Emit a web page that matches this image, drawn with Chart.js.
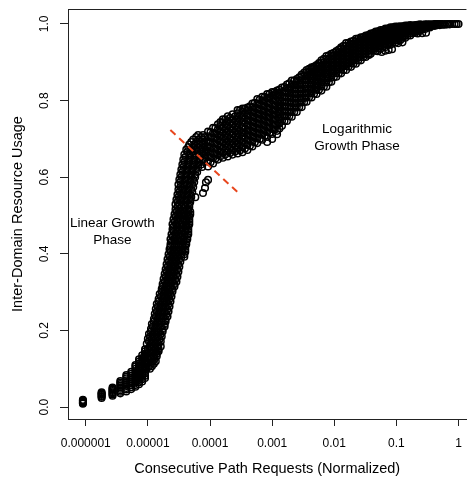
<!DOCTYPE html>
<html>
<head>
<meta charset="utf-8">
<script src="https://cdn.jsdelivr.net/npm/chart.js@4/dist/chart.umd.min.js"></script>
<style>
  html, body { margin: 0; padding: 0; background: #fff; }
  canvas { display: block; }
</style>
</head>
<body>
<canvas id="chart" width="472" height="482"></canvas>
<script>
// Axis ticks
const xTicks = [1e-6, 1e-5, 1e-4, 1e-3, 1e-2, 1e-1, 1];
const xTickLabels = ['0.000001', '0.00001', '0.0001', '0.001', '0.01', '0.1', '1'];
const yTicks = [0, 0.2, 0.4, 0.6, 0.8, 1.0];
const yTickLabels = ['0.0', '0.2', '0.4', '0.6', '0.8', '1.0'];

// Discrete columns at the low end (x, then the y values stacked at that x)
const lowX = [0.9e-6, 1.8e-6, 2.7e-6, 3.6e-6, 4.5e-6, 5.4e-6, 6.3e-6, 7.2e-6, 8.1e-6, 9.0e-6];
const lowY = [
  [0.009, 0.011, 0.013, 0.015, 0.017, 0.019],
  [0.024, 0.027, 0.029, 0.032, 0.034, 0.036, 0.039],
  [0.030, 0.033, 0.036, 0.039, 0.042, 0.045, 0.048, 0.051],
  [0.036, 0.040, 0.044, 0.048, 0.052, 0.056, 0.060, 0.064, 0.068],
  [0.041, 0.046, 0.050, 0.055, 0.060, 0.065, 0.070, 0.075, 0.080, 0.084],
  [0.047, 0.052, 0.057, 0.062, 0.067, 0.072, 0.077, 0.082, 0.087, 0.092],
  [0.053, 0.058, 0.064, 0.070, 0.076, 0.082, 0.088, 0.094, 0.100, 0.106, 0.110],
  [0.060, 0.065, 0.071, 0.077, 0.083, 0.089, 0.095, 0.101, 0.107, 0.113, 0.119, 0.125],
  [0.067, 0.073, 0.079, 0.085, 0.091, 0.097, 0.104, 0.110, 0.116, 0.122, 0.128, 0.135],
  [0.076, 0.082, 0.088, 0.094, 0.100, 0.106, 0.113, 0.119, 0.126, 0.132, 0.139, 0.146, 0.151]
];

// Linear growth phase, read row by row (y, then the x values on that row)
const steepY = [0.100, 0.1065, 0.113, 0.1195, 0.126, 0.1325, 0.139, 0.1455, 0.152, 0.1585,
  0.165, 0.1715, 0.178, 0.1845, 0.191, 0.1975, 0.204, 0.2105, 0.217, 0.2235,
  0.230, 0.2365, 0.243, 0.2495, 0.256, 0.2625, 0.269, 0.2755, 0.282, 0.2885,
  0.295, 0.3015, 0.308, 0.3145, 0.321, 0.3275, 0.334, 0.3405, 0.347, 0.3535,
  0.360, 0.3665, 0.373, 0.3795, 0.386, 0.3925, 0.399, 0.4055, 0.412, 0.4185,
  0.425, 0.4315, 0.438, 0.4445, 0.451, 0.4575, 0.464, 0.4705, 0.477, 0.4835,
  0.490, 0.4965, 0.503, 0.5095, 0.516, 0.5225, 0.529, 0.5355, 0.542, 0.5485,
  0.555, 0.5615, 0.568, 0.5745, 0.581, 0.5875, 0.594, 0.6005, 0.607, 0.6135,
  0.620, 0.6265, 0.633, 0.6395, 0.646, 0.6525, 0.659, 0.6655, 0.672, 0.6785,
  0.685, 0.6915, 0.698, 0.7045, 0.710];
const steepX = [
  [9.6e-6, 1.08e-5], [1.04e-5, 1.16e-5],
  [9.6e-6, 1.12e-5, 1.25e-5], [1.04e-5, 1.2e-5, 1.34e-5],
  [1.0e-5, 1.16e-5, 1.29e-5], [1.08e-5, 1.25e-5, 1.39e-5],
  [9.6e-6, 1.12e-5, 1.29e-5, 1.39e-5], [1.04e-5, 1.2e-5, 1.39e-5, 1.49e-5],
  [1.0e-5, 1.16e-5, 1.34e-5, 1.49e-5], [1.08e-5, 1.25e-5, 1.44e-5, 1.61e-5],
  [9.6e-6, 1.12e-5, 1.29e-5, 1.49e-5], [1.04e-5, 1.2e-5, 1.39e-5, 1.61e-5],
  [1.0e-5, 1.16e-5, 1.34e-5, 1.55e-5], [1.08e-5, 1.25e-5, 1.44e-5, 1.67e-5],
  [1.04e-5, 1.2e-5, 1.39e-5, 1.61e-5], [1.12e-5, 1.29e-5, 1.49e-5, 1.73e-5],
  [1.12e-5, 1.29e-5, 1.49e-5, 1.73e-5], [1.2e-5, 1.39e-5, 1.61e-5, 1.86e-5],
  [1.16e-5, 1.34e-5, 1.55e-5, 1.86e-5], [1.25e-5, 1.44e-5, 1.67e-5, 1.93e-5],
  [1.25e-5, 1.44e-5, 1.67e-5, 1.93e-5], [1.34e-5, 1.55e-5, 1.79e-5, 2.07e-5],
  [1.29e-5, 1.49e-5, 1.73e-5, 2.0e-5], [1.39e-5, 1.61e-5, 1.86e-5, 2.15e-5],
  [1.34e-5, 1.55e-5, 1.79e-5, 2.07e-5], [1.44e-5, 1.67e-5, 1.93e-5, 2.23e-5],
  [1.39e-5, 1.61e-5, 1.86e-5, 2.15e-5], [1.49e-5, 1.73e-5, 2.0e-5, 2.31e-5],
  [1.49e-5, 1.73e-5, 2.0e-5, 2.23e-5], [1.61e-5, 1.86e-5, 2.15e-5, 2.4e-5],
  [1.55e-5, 1.79e-5, 2.07e-5, 2.31e-5], [1.67e-5, 1.93e-5, 2.23e-5, 2.49e-5],
  [1.67e-5, 1.86e-5, 2.15e-5, 2.49e-5], [1.73e-5, 2.0e-5, 2.31e-5, 2.68e-5],
  [1.73e-5, 2.0e-5, 2.31e-5, 2.68e-5], [1.86e-5, 2.15e-5, 2.49e-5, 2.88e-5],
  [1.79e-5, 2.07e-5, 2.4e-5, 2.78e-5], [1.93e-5, 2.23e-5, 2.58e-5, 2.99e-5],
  [1.86e-5, 2.15e-5, 2.49e-5, 2.88e-5], [2.0e-5, 2.31e-5, 2.68e-5, 3.1e-5],
  [1.93e-5, 2.23e-5, 2.58e-5, 2.99e-5], [2.07e-5, 2.4e-5, 2.78e-5, 3.21e-5],
  [2.0e-5, 2.31e-5, 2.68e-5, 3.1e-5], [2.15e-5, 2.49e-5, 2.88e-5, 3.33e-5],
  [2.07e-5, 2.4e-5, 2.78e-5, 3.21e-5], [2.23e-5, 2.58e-5, 2.99e-5, 3.46e-5, 3.86e-5],
  [2.15e-5, 2.49e-5, 2.88e-5, 3.33e-5, 3.86e-5], [2.31e-5, 2.68e-5, 3.1e-5, 3.59e-5, 4.0e-5],
  [2.23e-5, 2.58e-5, 2.99e-5, 3.46e-5, 4.0e-5], [2.31e-5, 2.68e-5, 3.1e-5, 3.59e-5, 4.0e-5],
  [2.31e-5, 2.68e-5, 3.1e-5, 3.59e-5, 4.15e-5], [2.4e-5, 2.78e-5, 3.21e-5, 3.72e-5, 4.15e-5],
  [2.31e-5, 2.68e-5, 3.1e-5, 3.72e-5, 4.31e-5], [2.49e-5, 2.88e-5, 3.33e-5, 3.86e-5, 4.31e-5],
  [2.4e-5, 2.78e-5, 3.21e-5, 3.86e-5, 4.47e-5], [2.58e-5, 2.99e-5, 3.46e-5, 4.0e-5, 4.47e-5],
  [2.49e-5, 2.88e-5, 3.33e-5, 4.0e-5, 4.47e-5], [2.58e-5, 2.99e-5, 3.46e-5, 4.0e-5, 4.47e-5],
  [2.49e-5, 2.88e-5, 3.46e-5, 4.15e-5, 4.64e-5], [2.68e-5, 3.1e-5, 3.59e-5, 4.15e-5, 4.64e-5],
  [2.58e-5, 2.99e-5, 3.59e-5, 4.15e-5, 4.64e-5], [2.78e-5, 3.21e-5, 3.72e-5, 4.31e-5, 4.64e-5],
  [2.68e-5, 3.1e-5, 3.59e-5, 4.31e-5, 4.81e-5], [2.88e-5, 3.33e-5, 3.86e-5, 4.47e-5, 4.81e-5],
  [2.78e-5, 3.21e-5, 3.72e-5, 4.47e-5], [2.99e-5, 3.46e-5, 4.0e-5, 4.64e-5],
  [2.78e-5, 3.21e-5, 3.86e-5, 4.64e-5], [2.99e-5, 3.46e-5, 4.15e-5, 4.81e-5],
  [2.88e-5, 3.33e-5, 4.0e-5, 4.81e-5], [3.1e-5, 3.59e-5, 4.31e-5, 4.99e-5],
  [2.99e-5, 3.46e-5, 4.15e-5, 4.81e-5], [3.21e-5, 3.72e-5, 4.47e-5, 5.18e-5],
  [3.1e-5, 3.59e-5, 4.31e-5, 4.99e-5], [3.33e-5, 3.86e-5, 4.64e-5, 5.37e-5],
  [3.1e-5, 3.72e-5, 4.31e-5, 5.18e-5], [3.33e-5, 4.0e-5, 4.81e-5, 5.57e-5],
  [3.21e-5, 3.86e-5, 4.47e-5, 5.37e-5], [3.46e-5, 4.15e-5, 4.99e-5, 5.77e-5],
  [3.33e-5, 4.0e-5, 4.81e-5, 5.77e-5], [3.59e-5, 4.31e-5, 5.18e-5, 6.21e-5],
  [3.46e-5, 4.15e-5, 4.99e-5, 5.99e-5], [3.72e-5, 4.47e-5, 5.37e-5, 6.45e-5, 7.46e-5],
  [3.59e-5, 4.31e-5, 5.18e-5, 6.21e-5, 7.19e-5], [3.86e-5, 4.64e-5, 5.57e-5, 6.68e-5, 8.02e-5],
  [3.72e-5, 4.47e-5, 5.37e-5, 6.45e-5, 7.74e-5], [4.0e-5, 4.81e-5, 5.77e-5, 6.93e-5, 8.32e-5],
  [3.86e-5, 4.64e-5, 5.57e-5, 6.68e-5, 8.02e-5], [4.31e-5, 5.18e-5, 6.21e-5, 7.46e-5, 8.6e-5],
  [4.15e-5, 4.99e-5, 5.99e-5, 7.19e-5, 8.6e-5], [4.47e-5, 5.37e-5, 6.45e-5, 7.74e-5, 8.97e-5],
  [4.64e-5, 5.57e-5, 6.68e-5, 8.02e-5], [4.99e-5, 5.99e-5, 7.19e-5, 8.6e-5],
  [5.37e-5, 6.45e-5, 7.74e-5], [5.99e-5, 7.19e-5, 8.32e-5],
  [6.45e-5, 7.74e-5]
];

// Logarithmic growth phase, read column by column (x, then the y values at that x)
const logX = [9.3e-5, 1.12e-4, 1.34e-4, 1.61e-4, 1.93e-4, 2.31e-4, 2.78e-4, 3.33e-4, 4.0e-4, 4.81e-4,
  5.77e-4, 6.93e-4, 8.32e-4, 1.0e-3, 1.2e-3, 1.44e-3, 1.73e-3, 2.07e-3, 2.49e-3, 2.99e-3,
  3.59e-3, 4.31e-3, 5.18e-3, 6.21e-3, 7.47e-3, 8.97e-3, 1.08e-2, 1.29e-2, 1.55e-2, 1.86e-2,
  2.23e-2, 2.68e-2, 3.21e-2, 3.86e-2, 4.64e-2, 5.57e-2, 6.68e-2, 8.02e-2, 9.6e-2, 0.116,
  0.139, 0.167, 0.2, 0.24, 0.289, 0.346, 0.416, 0.5, 0.6, 0.72, 0.864, 1.0];
const logY = [
  [0.628, 0.641, 0.655, 0.667, 0.681, 0.693, 0.707, 0.719],
  [0.636, 0.650, 0.662, 0.676, 0.690, 0.702, 0.716, 0.729],
  [0.646, 0.658, 0.672, 0.685, 0.699, 0.711, 0.725, 0.738],
  [0.651, 0.664, 0.677, 0.691, 0.703, 0.717, 0.730, 0.743, 0.751],
  [0.654, 0.668, 0.681, 0.693, 0.707, 0.719, 0.733, 0.746, 0.759],
  [0.659, 0.671, 0.686, 0.698, 0.712, 0.725, 0.738, 0.751, 0.764],
  [0.662, 0.676, 0.688, 0.702, 0.714, 0.728, 0.741, 0.754, 0.767, 0.775],
  [0.665, 0.678, 0.692, 0.705, 0.717, 0.731, 0.744, 0.757, 0.770, 0.779],
  [0.671, 0.684, 0.697, 0.710, 0.723, 0.736, 0.749, 0.762, 0.774, 0.782],
  [0.680, 0.693, 0.706, 0.719, 0.732, 0.745, 0.758, 0.770, 0.783, 0.792],
  [0.689, 0.702, 0.715, 0.728, 0.741, 0.754, 0.766, 0.779, 0.792, 0.804],
  [0.698, 0.711, 0.724, 0.737, 0.750, 0.762, 0.775, 0.788, 0.800, 0.810],
  [0.705, 0.718, 0.731, 0.744, 0.757, 0.769, 0.782, 0.795, 0.807, 0.817],
  [0.713, 0.726, 0.739, 0.752, 0.764, 0.777, 0.790, 0.802, 0.814, 0.822],
  [0.721, 0.734, 0.747, 0.760, 0.772, 0.785, 0.798, 0.810, 0.820, 0.826],
  [0.734, 0.747, 0.759, 0.772, 0.784, 0.797, 0.809, 0.821, 0.834],
  [0.747, 0.759, 0.771, 0.784, 0.796, 0.808, 0.820, 0.832, 0.842],
  [0.758, 0.770, 0.782, 0.794, 0.806, 0.818, 0.829, 0.841, 0.852],
  [0.770, 0.782, 0.793, 0.805, 0.817, 0.829, 0.840, 0.850, 0.856],
  [0.783, 0.795, 0.806, 0.818, 0.829, 0.841, 0.852, 0.862, 0.868],
  [0.797, 0.808, 0.820, 0.831, 0.842, 0.853, 0.864, 0.874, 0.880],
  [0.808, 0.819, 0.830, 0.841, 0.852, 0.863, 0.874, 0.882, 0.887],
  [0.817, 0.828, 0.839, 0.850, 0.861, 0.871, 0.881, 0.889, 0.893],
  [0.826, 0.837, 0.848, 0.859, 0.870, 0.880, 0.890, 0.899, 0.905],
  [0.836, 0.847, 0.858, 0.869, 0.879, 0.889, 0.899, 0.908, 0.916],
  [0.849, 0.860, 0.870, 0.880, 0.890, 0.900, 0.909, 0.917, 0.922],
  [0.862, 0.872, 0.882, 0.891, 0.901, 0.910, 0.919, 0.926, 0.929],
  [0.871, 0.881, 0.891, 0.900, 0.910, 0.919, 0.928, 0.935, 0.939],
  [0.880, 0.890, 0.899, 0.908, 0.917, 0.926, 0.935, 0.943, 0.950],
  [0.888, 0.897, 0.906, 0.915, 0.924, 0.933, 0.941, 0.948, 0.954],
  [0.896, 0.905, 0.914, 0.922, 0.931, 0.939, 0.947, 0.955, 0.961],
  [0.905, 0.913, 0.921, 0.930, 0.938, 0.946, 0.953, 0.960, 0.965],
  [0.914, 0.922, 0.930, 0.938, 0.945, 0.953, 0.960, 0.966, 0.970],
  [0.922, 0.930, 0.937, 0.945, 0.952, 0.959, 0.966, 0.971, 0.975],
  [0.930, 0.937, 0.944, 0.951, 0.958, 0.965, 0.971, 0.976, 0.980],
  [0.935, 0.942, 0.949, 0.956, 0.963, 0.969, 0.975, 0.980, 0.984],
  [0.940, 0.947, 0.954, 0.961, 0.967, 0.973, 0.979, 0.984, 0.988],
  [0.946, 0.953, 0.959, 0.966, 0.972, 0.978, 0.983, 0.988, 0.991],
  [0.951, 0.958, 0.964, 0.970, 0.976, 0.981, 0.986, 0.990, 0.993],
  [0.958, 0.964, 0.970, 0.976, 0.981, 0.986, 0.990, 0.994],
  [0.964, 0.970, 0.976, 0.981, 0.986, 0.990, 0.994, 0.996],
  [0.970, 0.976, 0.981, 0.986, 0.990, 0.994, 0.997],
  [0.977, 0.982, 0.986, 0.990, 0.994, 0.997],
  [0.982, 0.986, 0.990, 0.994, 0.997, 0.999],
  [0.987, 0.990, 0.994, 0.997, 0.999],
  [0.991, 0.994, 0.997, 0.999],
  [0.995, 0.997, 0.999, 1.0],
  [0.997, 0.999, 1.0],
  [0.998, 1.0],
  [0.999, 1.0],
  [1.0],
  [1.0]
];

// In-between columns of the same band (offset half a column and half a row)
const logMidX = [1.02e-4, 1.22e-4, 1.47e-4, 1.76e-4, 2.11e-4, 2.54e-4, 3.04e-4, 3.65e-4, 4.39e-4, 5.27e-4,
  6.32e-4, 7.6e-4, 9.1e-4, 1.1e-3, 1.31e-3, 1.58e-3, 1.89e-3, 2.27e-3, 2.73e-3, 3.28e-3,
  3.93e-3, 4.73e-3, 5.67e-3, 6.81e-3, 8.19e-3, 9.84e-3, 1.18e-2, 1.41e-2, 1.7e-2, 2.04e-2,
  2.44e-2, 2.93e-2, 3.52e-2, 4.23e-2, 5.08e-2, 6.1e-2, 7.32e-2, 8.77e-2, 0.106, 0.127,
  0.152, 0.183, 0.219, 0.263, 0.316, 0.379, 0.456, 0.548, 0.657, 0.789, 0.93];
const logMidY = [
  [0.639, 0.652, 0.666, 0.678, 0.692, 0.704, 0.718],
  [0.648, 0.662, 0.674, 0.688, 0.702, 0.714, 0.728],
  [0.655, 0.667, 0.681, 0.694, 0.708, 0.720, 0.734, 0.744],
  [0.659, 0.672, 0.685, 0.699, 0.711, 0.725, 0.738, 0.751],
  [0.663, 0.677, 0.690, 0.702, 0.716, 0.728, 0.742, 0.755],
  [0.667, 0.679, 0.694, 0.706, 0.720, 0.733, 0.746, 0.759],
  [0.670, 0.684, 0.696, 0.710, 0.722, 0.736, 0.749, 0.762, 0.775],
  [0.675, 0.688, 0.702, 0.715, 0.727, 0.741, 0.754, 0.767, 0.779],
  [0.682, 0.695, 0.708, 0.721, 0.734, 0.747, 0.760, 0.773, 0.785],
  [0.691, 0.704, 0.717, 0.730, 0.743, 0.756, 0.769, 0.781, 0.794],
  [0.700, 0.713, 0.726, 0.739, 0.752, 0.765, 0.777, 0.790, 0.803],
  [0.708, 0.721, 0.734, 0.747, 0.760, 0.772, 0.785, 0.798, 0.810],
  [0.716, 0.729, 0.742, 0.755, 0.768, 0.780, 0.793, 0.806, 0.818],
  [0.724, 0.737, 0.750, 0.763, 0.775, 0.788, 0.801, 0.813, 0.823],
  [0.727, 0.740, 0.753, 0.766, 0.779, 0.791, 0.804, 0.817, 0.829],
  [0.747, 0.760, 0.772, 0.785, 0.797, 0.810, 0.822, 0.835],
  [0.759, 0.771, 0.784, 0.796, 0.809, 0.821, 0.833, 0.845],
  [0.770, 0.782, 0.794, 0.806, 0.818, 0.830, 0.842, 0.852],
  [0.783, 0.795, 0.807, 0.818, 0.830, 0.842, 0.853, 0.861],
  [0.796, 0.807, 0.819, 0.831, 0.842, 0.854, 0.865, 0.873],
  [0.809, 0.820, 0.831, 0.843, 0.854, 0.865, 0.876, 0.883],
  [0.818, 0.830, 0.841, 0.852, 0.863, 0.874, 0.884, 0.889],
  [0.828, 0.839, 0.850, 0.861, 0.872, 0.882, 0.892, 0.898],
  [0.837, 0.848, 0.859, 0.869, 0.880, 0.890, 0.900, 0.909],
  [0.848, 0.859, 0.869, 0.880, 0.890, 0.900, 0.910, 0.918],
  [0.861, 0.871, 0.881, 0.891, 0.900, 0.910, 0.918, 0.925],
  [0.871, 0.881, 0.891, 0.900, 0.909, 0.918, 0.926, 0.933],
  [0.880, 0.890, 0.899, 0.908, 0.917, 0.926, 0.935, 0.943],
  [0.889, 0.898, 0.907, 0.916, 0.925, 0.934, 0.943, 0.951],
  [0.897, 0.906, 0.915, 0.923, 0.932, 0.940, 0.948, 0.956],
  [0.905, 0.913, 0.922, 0.930, 0.938, 0.946, 0.954, 0.962],
  [0.914, 0.922, 0.930, 0.938, 0.946, 0.953, 0.960, 0.966],
  [0.922, 0.930, 0.938, 0.945, 0.952, 0.959, 0.966, 0.971],
  [0.930, 0.937, 0.944, 0.951, 0.958, 0.965, 0.971, 0.976],
  [0.936, 0.943, 0.950, 0.957, 0.963, 0.969, 0.975, 0.981],
  [0.941, 0.948, 0.955, 0.961, 0.967, 0.973, 0.979, 0.985],
  [0.946, 0.953, 0.959, 0.965, 0.971, 0.977, 0.983, 0.988],
  [0.952, 0.958, 0.964, 0.970, 0.976, 0.981, 0.986, 0.991],
  [0.957, 0.963, 0.969, 0.975, 0.980, 0.985, 0.989, 0.993],
  [0.964, 0.970, 0.975, 0.980, 0.985, 0.990, 0.994],
  [0.970, 0.975, 0.980, 0.985, 0.989, 0.993, 0.996],
  [0.976, 0.981, 0.985, 0.989, 0.993, 0.996],
  [0.981, 0.985, 0.989, 0.993, 0.996, 0.998],
  [0.986, 0.990, 0.993, 0.996, 0.998],
  [0.991, 0.994, 0.997, 0.999],
  [0.995, 0.997, 0.999],
  [0.997, 0.999, 1.0],
  [0.998, 1.0],
  [0.999, 1.0],
  [1.0],
  [1.0]
];

// Stray points below the main band
const strayX = [5.8e-5, 7.7e-5, 8.3e-5, 8.6e-5, 9.3e-5, 8.32e-4, 1.0e-3, 1.2e-3,
  0.036, 0.05, 0.058, 0.066, 0.075, 0.085, 0.107, 0.125, 0.22, 0.26, 0.3];
const strayY = [0.548, 0.559, 0.572, 0.587, 0.593, 0.692, 0.700, 0.712,
  0.919, 0.929, 0.927, 0.930, 0.932, 0.934, 0.950, 0.952, 0.975, 0.976, 0.977];

// Dashed divider between the two phases
const dividerX = [2.3e-5, 2.78e-4];
const dividerY = [0.723, 0.561];

// Phase captions (anchor = baseline of first line)
const captionLines = [['Linear Growth', 'Phase'], ['Logarithmic', 'Growth Phase']];
const captionX = [2.68e-6, 0.0232];
const captionY = [0.470, 0.715];

const points = [];
lowX.forEach((x, i) => lowY[i].forEach(y => points.push({ x, y })));
steepY.forEach((y, i) => steepX[i].forEach(x => points.push({ x, y })));
logX.forEach((x, i) => logY[i].forEach(y => points.push({ x, y })));
logMidX.forEach((x, i) => logMidY[i].forEach(y => points.push({ x, y })));
strayX.forEach((x, i) => points.push({ x, y: strayY[i] }));

const FONT = '"Liberation Sans", Arial, Helvetica, sans-serif';

const extras = {
  id: 'extras',
  afterDraw(chart) {
    const { ctx, chartArea, scales } = chart;
    const xs = scales.x, ys = scales.y;
    ctx.save();
    // top of the box
    ctx.strokeStyle = '#222';
    ctx.lineWidth = 1;
    ctx.beginPath();
    ctx.moveTo(chartArea.left, chartArea.top + 0.5);
    ctx.lineTo(chartArea.right, chartArea.top + 0.5);
    ctx.stroke();

    // rotated y tick labels
    ctx.fillStyle = '#000';
    ctx.font = '12px ' + FONT;
    ctx.textAlign = 'center';
    ctx.textBaseline = 'middle';
    yTicks.forEach((v, i) => {
      ctx.save();
      ctx.translate(ys.left + 45, ys.getPixelForValue(v));
      ctx.rotate(-Math.PI / 2);
      ctx.fillText(yTickLabels[i], 0, 0);
      ctx.restore();
    });

    // phase captions
    ctx.font = '13.5px ' + FONT;
    ctx.textBaseline = 'alphabetic';
    captionLines.forEach((lines, i) => {
      const px = xs.getPixelForValue(captionX[i]);
      const py = ys.getPixelForValue(captionY[i]);
      lines.forEach((t, j) => ctx.fillText(t, px, py + j * 16.5));
    });
    ctx.restore();
  }
};

new Chart(document.getElementById('chart'), {
  data: {
    datasets: [
      {
        type: 'line',
        data: dividerX.map((x, i) => ({ x, y: dividerY[i] })),
        borderColor: '#e8471e',
        borderWidth: 2,
        borderDash: [7, 5],
        pointRadius: 0,
        fill: false
      },
      {
        type: 'scatter',
        data: points,
        pointStyle: 'circle',
        pointRadius: 3.3,
        borderWidth: 1.5,
        borderColor: '#000',
        backgroundColor: 'rgba(0,0,0,0)'
      }
    ]
  },
  options: {
    responsive: false,
    animation: false,
    events: [],
    layout: { padding: { top: 9, right: 0, left: 0, bottom: 0 } },
    plugins: { legend: { display: false }, tooltip: { enabled: false } },
    scales: {
      x: {
        type: 'logarithmic',
        position: 'bottom',
        min: 5.18e-7,
        max: 1.34,
        afterBuildTicks: (s) => { s.ticks = xTicks.map(v => ({ value: v })); },
        afterFit: (s) => { s.height = 63; },
        ticks: {
          autoSkip: false,
          maxRotation: 0,
          padding: 10,
          color: '#000',
          font: { size: 12, family: FONT },
          callback: (v, i) => xTickLabels[i]
        },
        grid: { drawOnChartArea: false, drawTicks: true, tickLength: 7, color: '#222' },
        border: { display: true, color: '#222', width: 1 },
        title: {
          display: true,
          text: 'Consecutive Path Requests (Normalized)',
          color: '#000',
          font: { size: 14.5, family: FONT },
          padding: { top: 0, bottom: 4 }
        }
      },
      y: {
        type: 'linear',
        min: -0.031,
        max: 1.039,
        afterBuildTicks: (s) => { s.ticks = yTicks.map(v => ({ value: v })); },
        afterFit: (s) => { s.width = 68; },
        ticks: { display: false },
        grid: { drawOnChartArea: false, drawTicks: true, tickLength: 8, color: '#222' },
        border: { display: true, color: '#222', width: 1 },
        title: {
          display: true,
          text: 'Inter-Domain Resource Usage',
          color: '#000',
          font: { size: 14.5, family: FONT },
          padding: { top: 9, bottom: 0 }
        }
      }
    }
  },
  plugins: [extras]
});
</script>
</body>
</html>
